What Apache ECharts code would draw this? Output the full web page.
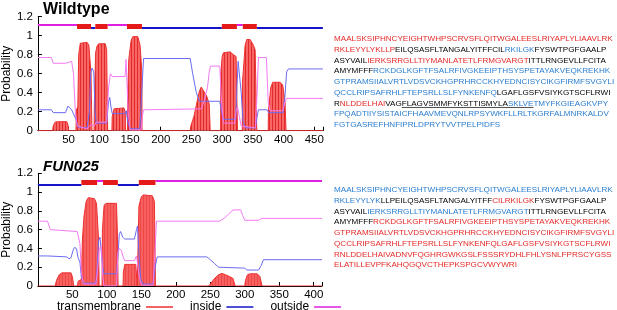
<!DOCTYPE html>
<html>
<head>
<meta charset="utf-8">
<script src="https://cdn.jsdelivr.net/npm/echarts@6/dist/echarts.min.js"></script>
<style>
html, body { margin: 0; padding: 0; background: #fff; }
#chart { width: 617px; height: 310px; }
</style>
</head>
<body>
<div id="chart"></div>
<script>
// ---- Wildtype (top panel) ----
const wtLength = 464;
const wtTm = [[0,0],[24,0],[25,0.05],[28,0.09],[32,0.095],[47,0.095],[49,0.06],[50,0],
  [62,0],[62.6,0.22],[65,0.25],[66.4,0.8],[69,0.92],[72,0.94],[80,0.93],[83,0.9],[86.5,0.6],[88,0],
  [91.5,0],[92,0.3],[94,0.82],[96.2,0.89],[99,0.915],[109.8,0.915],[112,0.85],[113.6,0],
  [120.5,0],[121,0.15],[124,0.23],[126,0.24],[140,0.24],[142.3,0.2],[142.5,0],
  [146,0],[146.3,0.4],[148,0.75],[151.8,0.95],[154.5,0.99],[162.6,0.99],[166.4,0.9],[169.4,0.6],[169.5,0],
  [248,0],[249,0.05],[254,0.15],[259,0.3],[263,0.42],[266,0.46],[269,0.44],[275,0.36],[279,0.28],[280.5,0],
  [297.5,0],[297.8,0.6],[300,0.78],[302,0.82],[312.9,0.83],[318.4,0.8],[322.7,0.78],[324.9,0],
  [332.8,0],[333,0.5],[337.4,0.9],[340,0.96],[345.5,0.96],[350.9,0.9],[353.7,0.85],[356.4,0],
  [375,0],[375.3,0.2],[379,0.45],[382.3,0.51],[394.3,0.51],[398.6,0.48],[402.4,0.3],[404,0],
  [464,0]];
const wtInside = [[0,0.22],[22,0.22],[25,0.19],[45,0.19],[49,0.26],[52,0.27],[55,0.22],[58,0.2],
  [62,0.12],[65,0.04],[80,0.03],[84,0.2],[86,0.6],[88,0.66],[91,0.62],[93,0.2],[95,0.08],[112,0.08],
  [115,0.3],[117,0.35],[119,0.25],[121,0.18],[142,0.18],[144,0.21],[146,0.1],[150,0.02],[166,0.02],
  [169,0.4],[172,0.76],[248,0.76],[252,0.6],[258,0.4],[263,0.31],[296,0.31],[299,0.2],[302,0.12],
  [322,0.12],[324,0.45],[326,0.73],[328,0.72],[331,0.4],[334,0.1],[338,0.03],[354,0.03],[357,0.15],
  [359,0.22],[373,0.22],[376,0.19],[399,0.19],[402,0.35],[405,0.62],[408,0.65],[464,0.65]];
const wtOutside = [[0,0.77],[22,0.77],[25,0.71],[45,0.71],[48,0.73],[55,0.73],[58,0.6],[61,0.2],
  [64,0.05],[80,0.02],[84,0.05],[88,0.06],[92,0.05],[95,0.09],[112,0.09],[115,0.45],[118,0.6],
  [121,0.57],[142,0.57],[143.5,0.75],[145.5,0.75],[147,0.2],[150,0.01],[168,0.01],[170,0.15],
  [172,0.22],[266,0.23],[270,0.3],[276,0.45],[279,0.62],[281,0.68],[296,0.68],[299,0.3],[302,0.08],
  [320,0.08],[323,0.22],[325,0.25],[328,0.15],[331,0.05],[354,0.03],[357,0.4],[359,0.77],[372,0.77],
  [375,0.3],[378,0.21],[399,0.21],[402,0.3],[405,0.34],[464,0.34]];
const wtBandOut = [[0,63.7],[113.5,145],[324,333.6]];
const wtBandIn = [[86.5,93.5],[169.4,299.5],[356.4,464]];
const wtBandTm = [[63.7,86.5],[93.5,113.5],[145,169.4],[299.5,324],[333.6,356.4]];

// ---- FUN025 (bottom panel) ----
const fnLength = 412;
const fnTm = [[0,0],[25,0],[27,0.06],[31,0.12],[35,0.14],[48,0.14],[50,0.1],[52,0],
  [57.5,0],[58.3,0.05],[60,0.07],[63,0.07],[64.6,0.5],[67,0.75],[70,0.9],[73,0.94],[82,0.93],[85,0.88],[88,0.5],[88.8,0],
  [93,0],[93.6,0.6],[96,0.86],[99,0.88],[114,0.88],[115.5,0.5],[116.3,0],
  [123.5,0],[124,0.15],[126,0.23],[142,0.23],[144,0],
  [146,0],[146.5,0.85],[150,0.95],[153,0.97],[166,0.96],[169,0.9],[170.5,0],
  [248,0],[250,0.02],[256,0.08],[262,0.12],[267,0.134],[272,0.12],[278,0.1],[283,0.08],[286,0],
  [300,0],[301,0.06],[304,0.12],[308,0.13],[318,0.13],[322,0.1],[325,0],
  [412,0]];
const fnInside = [[0,0.32],[14,0.32],[42,0.31],[45,0.29],[48,0.3],[51,0.38],[53,0.41],[56,0.4],
  [58,0.31],[61,0.25],[63,0.1],[66,0.03],[84,0.03],[86,0.2],[88,0.48],[90,0.52],[92,0.5],[94,0.2],
  [96,0.13],[114,0.13],[116,0.3],[118,0.55],[120,0.58],[123,0.52],[126,0.5],[140,0.5],[143,0.6],
  [144.5,0.64],[146.5,0.35],[149,0.08],[152,0.02],[167,0.02],[170,0.2],[173,0.31],[245,0.31],
  [250,0.28],[256,0.24],[262,0.2],[264,0.19],[300,0.19],[303,0.17],[320,0.17],[324,0.22],[327,0.28],[412,0.28]];
const fnOutside = [[0,0.69],[14,0.69],[18,0.6],[20,0.59],[57,0.58],[59,0.6],[61,0.45],[63,0.15],
  [66,0.02],[84,0.02],[87,0.2],[89,0.4],[92,0.42],[94,0.1],[96,0],[114,0],[116,0.35],[118,0.4],
  [121,0.38],[124,0.3],[126,0.27],[140,0.27],[143,0.32],[145,0.3],[147,0.1],[150,0.01],[167,0.01],
  [170,0.4],[172,0.69],[263,0.69],[270,0.72],[280,0.79],[283,0.81],[294,0.81],[297,0.75],[300,0.7],
  [320,0.7],[325,0.72],[412,0.72]];
const fnBandOut = [[86,94.5],[170.5,412]];
const fnBandIn = [[0,63],[116,146.4]];
const fnBandTm = [[63,86],[94.5,116],[146.4,170.5]];

// topology band levels
const bandLevels = { out: 1.12, tm: 1.1, in: 1.08 };

// ---- sequences (r = red, k = black, b = blue) ----
const wtSeq = [
  [['r','MAALSKSIPHNCYEIGHTWHPSCRVSFLQITWGALEESLRIYAPLYLIAAVLRK']],
  [['r','RKLEYYLYKLLP'],['k','EILQSASFLTANGALYITFFCIL'],['b','RKILGK'],['k','FYSWTPGFGAALP']],
  [['k','ASYVAIL'],['r','IERKSRRGLLTIYMANLATETLFRMGVARGT'],['k','ITTLRNGEVLLFCITA']],
  [['k','AMYMFFF'],['b','RCKDGLKGFTFSALRFIVGKEEIPTHSYSPETAYAKVEQKREKHK']],
  [['b','GTPRAMSIIALVRTLVDSVCKHGPRHRCCKHYEDNCISYCIKGFIRMFSVGYLI']],
  [['b','QCCLRIPSAFRHLFTEPSRLLSLFYNKENFQ'],['k','LGAFLGSFVSIYKGTSCFLRWI']],
  [['k','R'],['r','NLDDELHAI'],['k','VAGFLAGVSMMFYKSTTISMYLA'],['b','SKLVETMYFKGIEAGKVPY']],
  [['b','FPQADTIIYSISTAICFHAAVMEVQNLRPSYWKFLLRLTKGRFALMNRKALDV']],
  [['b','FGTGASREFHNFIPRLDPRYTVVTPELPIDFS']]
];
// underlined stretch of wildtype line 7
const wtUnderline = { line: 6, from: 'RNLDDELHAIVAG', text: 'FLAGVSMMFYKSTTISMYLASKLVE' };
const fnSeq = [
  [['b','MAALSKSIPHNCYEIGHTWHPSCRVSFLQITWGALEESLRIYAPLYLIAAVLRK']],
  [['b','RKLEYYLYK'],['k','LLPEILQSASFLTANGALYITFF'],['r','CILRKILGK'],['k','FYSWTPGFGAALP']],
  [['k','ASYVAIL'],['b','IERKSRRGLLTIYMANLATETLFRMGVARGT'],['k','ITTLRNGEVLLFCITA']],
  [['k','AMYMFFF'],['r','RCKDGLKGFTFSALRFIVGKEEIPTHSYSPETAYAKVEQKREKHK']],
  [['r','GTPRAMSIIALVRTLVDSVCKHGPRHRCCKHYEDNCISYCIKGFIRMFSVGYLI']],
  [['r','QCCLRIPSAFRHLFTEPSRLLSLFYNKENFQLGAFLGSFVSIYKGTSCFLRWI']],
  [['r','RNLDDELHAIVADNVFQGHRGWKGSLFSSSRYDHLFHLYSNLFPRSCYGSS']],
  [['r','ELATILLEVPFKAHQGQVCTHEPKSPGCVWYWRI']]
];

const FONT = 'Liberation Sans, Arial, sans-serif';
const RED = '#ee3030', BLUE_LINE = '#6b6bf2', MAG_LINE = '#f27af2';
const BLUE_BAND = '#1414c8', MAG_BAND = '#e020e0';

// striped fill like gnuplot impulses
function stripes(light, dark) {
  const c = document.createElement('canvas');
  c.width = 3; c.height = 4;
  const g = c.getContext('2d');
  g.fillStyle = light; g.fillRect(0, 0, 3, 4);
  g.fillStyle = dark; g.fillRect(2, 0, 1, 4);
  return { image: c, repeat: 'repeat' };
}

function xAxis(idx, max) {
  return {
    type: 'value', gridIndex: idx, min: 0, max: max, interval: 50,
    axisLine: { lineStyle: { color: '#000', width: 1 } },
    axisTick: { inside: true, length: 4, lineStyle: { color: '#000' } },
    splitLine: { show: false },
    axisLabel: { color: '#000', fontSize: 11.5, fontFamily: FONT, margin: 3,
      formatter: v => (v > 0 && v % 50 === 0) ? String(v) : '' }
  };
}
function yAxis(idx) {
  return {
    type: 'value', gridIndex: idx, min: 0, max: 1.2, interval: 0.2,
    name: 'Probability', nameLocation: 'middle', nameGap: 24,
    nameTextStyle: { color: '#000', fontSize: 12, fontFamily: FONT },
    axisLine: { show: true, lineStyle: { color: '#000', width: 1 } },
    axisTick: { show: true, inside: true, length: 4, lineStyle: { color: '#000' } },
    splitLine: { show: false },
    axisLabel: { color: '#000', fontSize: 11.5, fontFamily: FONT, margin: 5,
      formatter: v => String(Math.round(v * 10) / 10) }
  };
}

function curve(name, data, color, idx, fill) {
  const s = {
    name: name, type: 'line', xAxisIndex: idx, yAxisIndex: idx, data: data,
    symbol: 'none', silent: true, z: 3,
    itemStyle: { color: color },
    lineStyle: { color: color, width: 1 }
  };
  if (fill) { s.areaStyle = { color: fill, opacity: 1 }; s.z = 2; }
  return s;
}
function band(segs, level, color, width, idx) {
  return {
    type: 'lines', coordinateSystem: 'cartesian2d', xAxisIndex: idx, yAxisIndex: idx,
    silent: true, z: 4,
    lineStyle: { color: color, width: width, opacity: 1, cap: 'butt' },
    data: segs.map(([a, b]) => ({ coords: [[a, level], [b, level]] }))
  };
}

function richText(lines) {
  return lines.map(l => l.map(([c, t]) => '{' + c + '|' + t + '}').join('')).join('\n');
}
const SEQ_FONT = 8.1, SEQ_LH = 10.75, SEQ_X = 334, WT_TOP = 33.6, FN_TOP = 184.6;
const rich = {
  r: { fill: '#e52a28', fontSize: SEQ_FONT, fontFamily: FONT, lineHeight: SEQ_LH },
  k: { fill: '#000000', fontSize: SEQ_FONT, fontFamily: FONT, lineHeight: SEQ_LH },
  b: { fill: '#2a7ecf', fontSize: SEQ_FONT, fontFamily: FONT, lineHeight: SEQ_LH }
};

// measure underline extent from the text itself
const mctx = document.createElement('canvas').getContext('2d');
mctx.font = SEQ_FONT + 'px ' + FONT;
const ulX1 = SEQ_X + mctx.measureText(wtUnderline.from).width;
const ulX2 = ulX1 + mctx.measureText(wtUnderline.text).width;
const ulY = WT_TOP + (wtUnderline.line + 0.5) * SEQ_LH + 4;

const myChart = echarts.init(document.getElementById('chart'), null, { renderer: 'canvas' });

const option = {
  animation: false,
  backgroundColor: '#fff',
  title: [
    { text: 'Wildtype', left: 38, top: -3,
      textStyle: { fontSize: 16, fontWeight: 'bold', fontFamily: FONT, color: '#000' } },
    { text: 'FUN025', left: 38, top: 154,
      textStyle: { fontSize: 15, fontWeight: 'bold', fontStyle: 'italic', fontFamily: FONT, color: '#000' } }
  ],
  grid: [
    { left: 37.5, top: 16.7, width: 285.4, height: 114 },
    { left: 37, top: 173.3, width: 285, height: 112.7 }
  ],
  xAxis: [xAxis(0, wtLength), xAxis(1, fnLength)],
  yAxis: [yAxis(0), yAxis(1)],
  legend: {
    left: 52, top: 296, align: 'right', itemWidth: 27, itemHeight: 1.5, itemGap: 17,
    textStyle: { fontSize: 12, fontFamily: FONT, color: '#000' },
    data: [
      { name: 'transmembrane', icon: 'rect', itemStyle: { color: RED } },
      { name: 'inside', icon: 'rect', itemStyle: { color: BLUE_BAND } },
      { name: 'outside', icon: 'rect', itemStyle: { color: MAG_BAND } }
    ]
  },
  series: [
    curve('transmembrane', wtTm, RED, 0, stripes('#f86666', '#e02a2a')),
    curve('inside', wtInside, BLUE_LINE, 0),
    curve('outside', wtOutside, MAG_LINE, 0),
    band(wtBandOut, bandLevels.out, MAG_BAND, 2, 0),
    band(wtBandIn, bandLevels.in, BLUE_BAND, 2, 0),
    band(wtBandTm, bandLevels.tm, '#e41a1a', 5, 0),

    curve('transmembrane', fnTm, RED, 1, stripes('#f76060', '#ef4646')),
    curve('inside', fnInside, BLUE_LINE, 1),
    curve('outside', fnOutside, MAG_LINE, 1),
    band(fnBandOut, bandLevels.out, MAG_BAND, 2, 1),
    band(fnBandIn, bandLevels.in, BLUE_BAND, 2, 1),
    band(fnBandTm, bandLevels.tm, '#e41a1a', 5, 1)
  ],
  graphic: [
    { type: 'text', left: SEQ_X, top: WT_TOP, z: 10,
      style: { text: richText(wtSeq), rich: rich, fontSize: SEQ_FONT, fontFamily: FONT, lineHeight: SEQ_LH } },
    { type: 'line', z: 10, shape: { x1: ulX1, y1: ulY, x2: ulX2, y2: ulY },
      style: { stroke: '#222', lineWidth: 0.8 } },
    { type: 'text', left: SEQ_X, top: FN_TOP, z: 10,
      style: { text: richText(fnSeq), rich: rich, fontSize: SEQ_FONT, fontFamily: FONT, lineHeight: SEQ_LH } }
  ]
};

myChart.setOption(option);
</script>
</body>
</html>
